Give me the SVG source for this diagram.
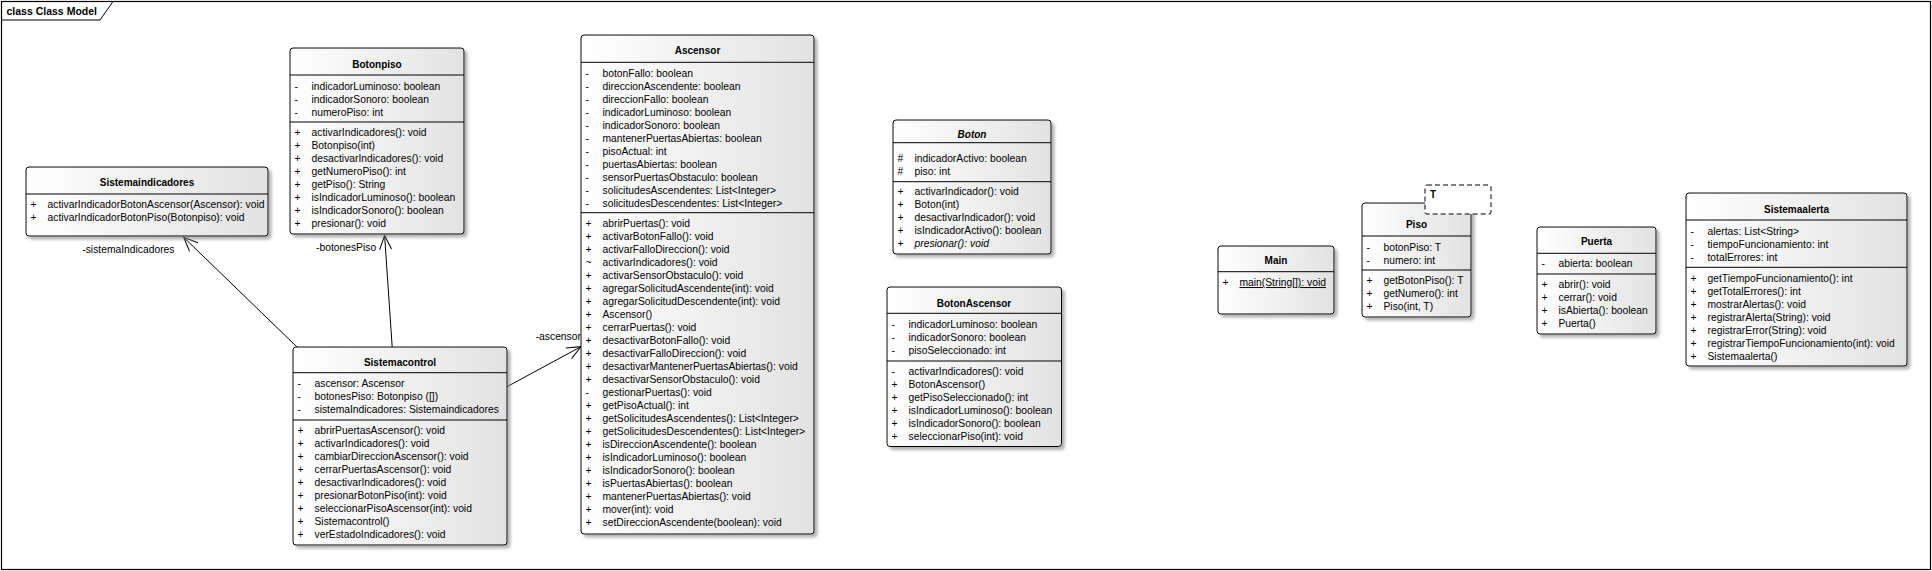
<svg xmlns="http://www.w3.org/2000/svg" width="1932" height="571" viewBox="0 0 1932 571">
<defs>
<linearGradient id="g" x1="0" y1="0" x2="1" y2="0">
<stop offset="0" stop-color="#ffffff"/>
<stop offset="1" stop-color="#e2e2e2"/>
</linearGradient>
<filter id="sh" x="-10%" y="-10%" width="130%" height="130%">
<feDropShadow dx="3" dy="3" stdDeviation="1.5" flood-color="#808080" flood-opacity="0.6"/>
</filter>
<marker id="arr" viewBox="0 0 16 14" refX="15" refY="7" markerWidth="16" markerHeight="14" markerUnits="userSpaceOnUse" orient="auto">
<path d="M1,1 L15,7 L1,13" fill="none" stroke="#000" stroke-width="1"/>
</marker>
</defs>
<style>
.box{fill:url(#g);stroke:#000;stroke-width:1;filter:url(#sh)}
.sep{stroke:#000;stroke-width:1}
.t{font-family:"Liberation Sans",Arial,sans-serif;font-size:10px;font-weight:bold;text-anchor:middle;fill:#000}
.m{font-family:"Liberation Sans",Arial,sans-serif;font-size:10.3px;fill:#000}
.lbl{font-family:"Liberation Sans",Arial,sans-serif;font-size:10.3px;fill:#000}
.it{font-style:italic}
.con{stroke:#000;stroke-width:1;fill:none;marker-end:url(#arr)}
</style>
<rect width="1932" height="571" fill="#fff"/>
<g id="frame">
<rect x="1.5" y="1.5" width="1929" height="568" fill="none" stroke="#000" stroke-width="1.2"/>
<path d="M1.5,20 L100,20 L113,1.5" fill="none" stroke="#000" stroke-width="1"/>
<text x="6.5" y="14.5" style="font-family:'Liberation Sans',Arial,sans-serif;font-size:10.5px;font-weight:bold">class Class Model</text>
</g>

<g id="connectors">
<line class="con" x1="297" y1="347" x2="183.7" y2="237.3"/>
<line class="con" x1="392.2" y1="347" x2="384.6" y2="235.5"/>
<line class="con" x1="507" y1="386.7" x2="581" y2="346.7"/>
<text class="lbl" x="82.3" y="252.5">-sistemaIndicadores</text>
<text class="lbl" x="316" y="250.5">-botonesPiso</text>
<text class="lbl" x="535.7" y="339.5">-ascensor</text>
</g>

<g id="Sistemaindicadores">
<rect class="box" x="26" y="167" width="242" height="69" rx="3"/>
<line class="sep" x1="26" y1="194" x2="268" y2="194"/>
<text class="t" x="147" y="186">Sistemaindicadores</text>
<text class="m" y="208.3"><tspan x="30.5">+</tspan><tspan x="47.5">activarIndicadorBotonAscensor(Ascensor): void</tspan></text>
<text class="m" y="221.3"><tspan x="30.5">+</tspan><tspan x="47.5">activarIndicadorBotonPiso(Botonpiso): void</tspan></text>
</g>

<g id="Botonpiso">
<rect class="box" x="290" y="48" width="174" height="186" rx="3"/>
<line class="sep" x1="290" y1="75" x2="464" y2="75"/>
<line class="sep" x1="290" y1="122" x2="464" y2="122"/>
<text class="t" x="377" y="67.5">Botonpiso</text>
<text class="m" y="89.5"><tspan x="294.5">-</tspan><tspan x="311.5">indicadorLuminoso: boolean</tspan></text>
<text class="m" y="102.5"><tspan x="294.5">-</tspan><tspan x="311.5">indicadorSonoro: boolean</tspan></text>
<text class="m" y="115.5"><tspan x="294.5">-</tspan><tspan x="311.5">numeroPiso: int</tspan></text>
<text class="m" y="136"><tspan x="294.5">+</tspan><tspan x="311.5">activarIndicadores(): void</tspan></text>
<text class="m" y="149"><tspan x="294.5">+</tspan><tspan x="311.5">Botonpiso(int)</tspan></text>
<text class="m" y="162"><tspan x="294.5">+</tspan><tspan x="311.5">desactivarIndicadores(): void</tspan></text>
<text class="m" y="175"><tspan x="294.5">+</tspan><tspan x="311.5">getNumeroPiso(): int</tspan></text>
<text class="m" y="188"><tspan x="294.5">+</tspan><tspan x="311.5">getPiso(): String</tspan></text>
<text class="m" y="201"><tspan x="294.5">+</tspan><tspan x="311.5">isIndicadorLuminoso(): boolean</tspan></text>
<text class="m" y="214"><tspan x="294.5">+</tspan><tspan x="311.5">isIndicadorSonoro(): boolean</tspan></text>
<text class="m" y="227"><tspan x="294.5">+</tspan><tspan x="311.5">presionar(): void</tspan></text>
</g>

<g id="Sistemacontrol">
<rect class="box" x="293" y="347" width="214" height="198" rx="3"/>
<line class="sep" x1="293" y1="372.7" x2="507" y2="372.7"/>
<line class="sep" x1="293" y1="420" x2="507" y2="420"/>
<text class="t" x="400" y="365.5">Sistemacontrol</text>
<text class="m" y="387"><tspan x="297.5">-</tspan><tspan x="314.5">ascensor: Ascensor</tspan></text>
<text class="m" y="400"><tspan x="297.5">-</tspan><tspan x="314.5">botonesPiso: Botonpiso ([])</tspan></text>
<text class="m" y="413"><tspan x="297.5">-</tspan><tspan x="314.5">sistemaIndicadores: Sistemaindicadores</tspan></text>
<text class="m" y="434"><tspan x="297.5">+</tspan><tspan x="314.5">abrirPuertasAscensor(): void</tspan></text>
<text class="m" y="447"><tspan x="297.5">+</tspan><tspan x="314.5">activarIndicadores(): void</tspan></text>
<text class="m" y="460"><tspan x="297.5">+</tspan><tspan x="314.5">cambiarDireccionAscensor(): void</tspan></text>
<text class="m" y="473"><tspan x="297.5">+</tspan><tspan x="314.5">cerrarPuertasAscensor(): void</tspan></text>
<text class="m" y="486"><tspan x="297.5">+</tspan><tspan x="314.5">desactivarIndicadores(): void</tspan></text>
<text class="m" y="499"><tspan x="297.5">+</tspan><tspan x="314.5">presionarBotonPiso(int): void</tspan></text>
<text class="m" y="512"><tspan x="297.5">+</tspan><tspan x="314.5">seleccionarPisoAscensor(int): void</tspan></text>
<text class="m" y="525"><tspan x="297.5">+</tspan><tspan x="314.5">Sistemacontrol()</tspan></text>
<text class="m" y="538"><tspan x="297.5">+</tspan><tspan x="314.5">verEstadoIndicadores(): void</tspan></text>
</g>

<g id="Ascensor">
<rect class="box" x="581" y="35" width="233" height="499" rx="3"/>
<line class="sep" x1="581" y1="62.3" x2="814" y2="62.3"/>
<line class="sep" x1="581" y1="212.7" x2="814" y2="212.7"/>
<text class="t" x="697.5" y="54.3">Ascensor</text>
<text class="m" y="76.5"><tspan x="585.5">-</tspan><tspan x="602.5">botonFallo: boolean</tspan></text>
<text class="m" y="89.5"><tspan x="585.5">-</tspan><tspan x="602.5">direccionAscendente: boolean</tspan></text>
<text class="m" y="102.5"><tspan x="585.5">-</tspan><tspan x="602.5">direccionFallo: boolean</tspan></text>
<text class="m" y="115.5"><tspan x="585.5">-</tspan><tspan x="602.5">indicadorLuminoso: boolean</tspan></text>
<text class="m" y="128.5"><tspan x="585.5">-</tspan><tspan x="602.5">indicadorSonoro: boolean</tspan></text>
<text class="m" y="141.5"><tspan x="585.5">-</tspan><tspan x="602.5">mantenerPuertasAbiertas: boolean</tspan></text>
<text class="m" y="154.5"><tspan x="585.5">-</tspan><tspan x="602.5">pisoActual: int</tspan></text>
<text class="m" y="167.5"><tspan x="585.5">-</tspan><tspan x="602.5">puertasAbiertas: boolean</tspan></text>
<text class="m" y="180.5"><tspan x="585.5">-</tspan><tspan x="602.5">sensorPuertasObstaculo: boolean</tspan></text>
<text class="m" y="193.5"><tspan x="585.5">-</tspan><tspan x="602.5">solicitudesAscendentes: List&lt;Integer&gt;</tspan></text>
<text class="m" y="206.5"><tspan x="585.5">-</tspan><tspan x="602.5">solicitudesDescendentes: List&lt;Integer&gt;</tspan></text>
<text class="m" y="227"><tspan x="585.5">+</tspan><tspan x="602.5">abrirPuertas(): void</tspan></text>
<text class="m" y="240"><tspan x="585.5">+</tspan><tspan x="602.5">activarBotonFallo(): void</tspan></text>
<text class="m" y="253"><tspan x="585.5">+</tspan><tspan x="602.5">activarFalloDireccion(): void</tspan></text>
<text class="m" y="266"><tspan x="585.5">~</tspan><tspan x="602.5">activarIndicadores(): void</tspan></text>
<text class="m" y="279"><tspan x="585.5">+</tspan><tspan x="602.5">activarSensorObstaculo(): void</tspan></text>
<text class="m" y="292"><tspan x="585.5">+</tspan><tspan x="602.5">agregarSolicitudAscendente(int): void</tspan></text>
<text class="m" y="305"><tspan x="585.5">+</tspan><tspan x="602.5">agregarSolicitudDescendente(int): void</tspan></text>
<text class="m" y="318"><tspan x="585.5">+</tspan><tspan x="602.5">Ascensor()</tspan></text>
<text class="m" y="331"><tspan x="585.5">+</tspan><tspan x="602.5">cerrarPuertas(): void</tspan></text>
<text class="m" y="344"><tspan x="585.5">+</tspan><tspan x="602.5">desactivarBotonFallo(): void</tspan></text>
<text class="m" y="357"><tspan x="585.5">+</tspan><tspan x="602.5">desactivarFalloDireccion(): void</tspan></text>
<text class="m" y="370"><tspan x="585.5">+</tspan><tspan x="602.5">desactivarMantenerPuertasAbiertas(): void</tspan></text>
<text class="m" y="383"><tspan x="585.5">+</tspan><tspan x="602.5">desactivarSensorObstaculo(): void</tspan></text>
<text class="m" y="396"><tspan x="585.5">-</tspan><tspan x="602.5">gestionarPuertas(): void</tspan></text>
<text class="m" y="409"><tspan x="585.5">+</tspan><tspan x="602.5">getPisoActual(): int</tspan></text>
<text class="m" y="422"><tspan x="585.5">+</tspan><tspan x="602.5">getSolicitudesAscendentes(): List&lt;Integer&gt;</tspan></text>
<text class="m" y="435"><tspan x="585.5">+</tspan><tspan x="602.5">getSolicitudesDescendentes(): List&lt;Integer&gt;</tspan></text>
<text class="m" y="448"><tspan x="585.5">+</tspan><tspan x="602.5">isDireccionAscendente(): boolean</tspan></text>
<text class="m" y="461"><tspan x="585.5">+</tspan><tspan x="602.5">isIndicadorLuminoso(): boolean</tspan></text>
<text class="m" y="474"><tspan x="585.5">+</tspan><tspan x="602.5">isIndicadorSonoro(): boolean</tspan></text>
<text class="m" y="487"><tspan x="585.5">+</tspan><tspan x="602.5">isPuertasAbiertas(): boolean</tspan></text>
<text class="m" y="500"><tspan x="585.5">+</tspan><tspan x="602.5">mantenerPuertasAbiertas(): void</tspan></text>
<text class="m" y="513"><tspan x="585.5">+</tspan><tspan x="602.5">mover(int): void</tspan></text>
<text class="m" y="526"><tspan x="585.5">+</tspan><tspan x="602.5">setDireccionAscendente(boolean): void</tspan></text>
</g>

<g id="Boton">
<rect class="box" x="893" y="120" width="158" height="134" rx="3"/>
<line class="sep" x1="893" y1="142.7" x2="1051" y2="142.7"/>
<line class="sep" x1="893" y1="181.7" x2="1051" y2="181.7"/>
<text class="t it" x="972" y="138">Boton</text>
<text class="m" y="162"><tspan x="897.5">#</tspan><tspan x="914.5">indicadorActivo: boolean</tspan></text>
<text class="m" y="175"><tspan x="897.5">#</tspan><tspan x="914.5">piso: int</tspan></text>
<text class="m" y="195"><tspan x="897.5">+</tspan><tspan x="914.5">activarIndicador(): void</tspan></text>
<text class="m" y="208"><tspan x="897.5">+</tspan><tspan x="914.5">Boton(int)</tspan></text>
<text class="m" y="221"><tspan x="897.5">+</tspan><tspan x="914.5">desactivarIndicador(): void</tspan></text>
<text class="m" y="234"><tspan x="897.5">+</tspan><tspan x="914.5">isIndicadorActivo(): boolean</tspan></text>
<text class="m" y="247"><tspan x="897.5">+</tspan><tspan x="914.5" class="it">presionar(): void</tspan></text>
</g>

<g id="BotonAscensor">
<rect class="box" x="887" y="287" width="174.5" height="159.5" rx="3"/>
<line class="sep" x1="887" y1="313.3" x2="1061.5" y2="313.3"/>
<line class="sep" x1="887" y1="361" x2="1061.5" y2="361"/>
<text class="t" x="974" y="307">BotonAscensor</text>
<text class="m" y="328"><tspan x="891.5">-</tspan><tspan x="908.5">indicadorLuminoso: boolean</tspan></text>
<text class="m" y="341"><tspan x="891.5">-</tspan><tspan x="908.5">indicadorSonoro: boolean</tspan></text>
<text class="m" y="354"><tspan x="891.5">-</tspan><tspan x="908.5">pisoSeleccionado: int</tspan></text>
<text class="m" y="375"><tspan x="891.5">-</tspan><tspan x="908.5">activarIndicadores(): void</tspan></text>
<text class="m" y="388"><tspan x="891.5">+</tspan><tspan x="908.5">BotonAscensor()</tspan></text>
<text class="m" y="401"><tspan x="891.5">+</tspan><tspan x="908.5">getPisoSeleccionado(): int</tspan></text>
<text class="m" y="414"><tspan x="891.5">+</tspan><tspan x="908.5">isIndicadorLuminoso(): boolean</tspan></text>
<text class="m" y="427"><tspan x="891.5">+</tspan><tspan x="908.5">isIndicadorSonoro(): boolean</tspan></text>
<text class="m" y="440"><tspan x="891.5">+</tspan><tspan x="908.5">seleccionarPiso(int): void</tspan></text>
</g>

<g id="Main">
<rect class="box" x="1218" y="246" width="116" height="68" rx="3"/>
<line class="sep" x1="1218" y1="271.7" x2="1334" y2="271.7"/>
<text class="t" x="1276" y="264.3">Main</text>
<text class="m" y="286"><tspan x="1222.5">+</tspan><tspan x="1239.5" text-decoration="underline">main(String[]): void</tspan></text>
</g>

<g id="Piso">
<rect class="box" x="1362" y="203" width="109" height="114" rx="3"/>
<line class="sep" x1="1362" y1="236" x2="1471" y2="236"/>
<line class="sep" x1="1362" y1="270" x2="1471" y2="270"/>
<text class="t" x="1416.5" y="228">Piso</text>
<text class="m" y="250.5"><tspan x="1366.5">-</tspan><tspan x="1383.5">botonPiso: T</tspan></text>
<text class="m" y="263.5"><tspan x="1366.5">-</tspan><tspan x="1383.5">numero: int</tspan></text>
<text class="m" y="284"><tspan x="1366.5">+</tspan><tspan x="1383.5">getBotonPiso(): T</tspan></text>
<text class="m" y="297"><tspan x="1366.5">+</tspan><tspan x="1383.5">getNumero(): int</tspan></text>
<text class="m" y="310"><tspan x="1366.5">+</tspan><tspan x="1383.5">Piso(int, T)</tspan></text>
<rect x="1425" y="185" width="66" height="29" rx="2" fill="#fff" stroke="#000" stroke-width="1" stroke-dasharray="5,3"/>
<text class="t" x="1430" y="198" style="text-anchor:start">T</text>
</g>

<g id="Puerta">
<rect class="box" x="1537" y="227" width="119" height="107" rx="3"/>
<line class="sep" x1="1537" y1="253.3" x2="1656" y2="253.3"/>
<line class="sep" x1="1537" y1="274" x2="1656" y2="274"/>
<text class="t" x="1596.5" y="245.3">Puerta</text>
<text class="m" y="267"><tspan x="1541.5">-</tspan><tspan x="1558.5">abierta: boolean</tspan></text>
<text class="m" y="288"><tspan x="1541.5">+</tspan><tspan x="1558.5">abrir(): void</tspan></text>
<text class="m" y="301"><tspan x="1541.5">+</tspan><tspan x="1558.5">cerrar(): void</tspan></text>
<text class="m" y="314"><tspan x="1541.5">+</tspan><tspan x="1558.5">isAbierta(): boolean</tspan></text>
<text class="m" y="327"><tspan x="1541.5">+</tspan><tspan x="1558.5">Puerta()</tspan></text>
</g>

<g id="Sistemaalerta">
<rect class="box" x="1686" y="193" width="221" height="173" rx="3"/>
<line class="sep" x1="1686" y1="220" x2="1907" y2="220"/>
<line class="sep" x1="1686" y1="267.3" x2="1907" y2="267.3"/>
<text class="t" x="1796.5" y="212.6">Sistemaalerta</text>
<text class="m" y="234.8"><tspan x="1690.5">-</tspan><tspan x="1707.5">alertas: List&lt;String&gt;</tspan></text>
<text class="m" y="247.8"><tspan x="1690.5">-</tspan><tspan x="1707.5">tiempoFuncionamiento: int</tspan></text>
<text class="m" y="260.8"><tspan x="1690.5">-</tspan><tspan x="1707.5">totalErrores: int</tspan></text>
<text class="m" y="282"><tspan x="1690.5">+</tspan><tspan x="1707.5">getTiempoFuncionamiento(): int</tspan></text>
<text class="m" y="295"><tspan x="1690.5">+</tspan><tspan x="1707.5">getTotalErrores(): int</tspan></text>
<text class="m" y="308"><tspan x="1690.5">+</tspan><tspan x="1707.5">mostrarAlertas(): void</tspan></text>
<text class="m" y="321"><tspan x="1690.5">+</tspan><tspan x="1707.5">registrarAlerta(String): void</tspan></text>
<text class="m" y="334"><tspan x="1690.5">+</tspan><tspan x="1707.5">registrarError(String): void</tspan></text>
<text class="m" y="347"><tspan x="1690.5">+</tspan><tspan x="1707.5">registrarTiempoFuncionamiento(int): void</tspan></text>
<text class="m" y="360"><tspan x="1690.5">+</tspan><tspan x="1707.5">Sistemaalerta()</tspan></text>
</g>
</svg>
